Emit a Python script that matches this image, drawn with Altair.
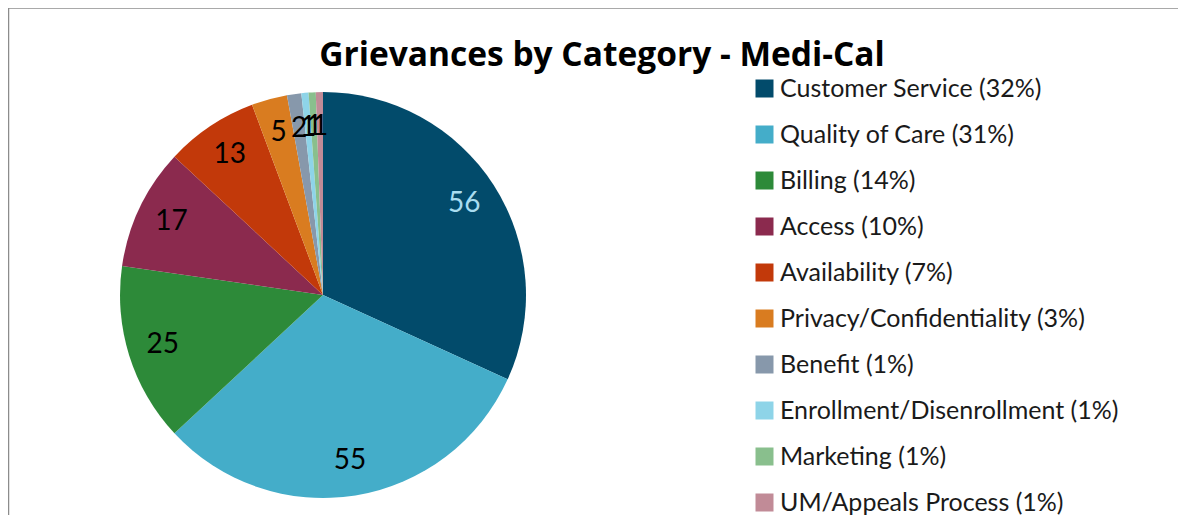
import altair as alt
import pandas as pd

categories = ["Customer Service", "Quality of Care", "Billing", "Access", "Availability",
              "Privacy/Confidentiality", "Benefit", "Enrollment/Disenrollment", "Marketing",
              "UM/Appeals Process"]
counts = [56, 55, 25, 17, 13, 5, 2, 1, 1, 1]
percents = ["32%", "31%", "14%", "10%", "7%", "3%", "1%", "1%", "1%", "1%"]
colors = ["#024B6B", "#44ADC9", "#2D8A39", "#8B2A4E", "#C2390A", "#D97C20",
          "#8798AB", "#8ED4E8", "#89BF8D", "#C18B97"]
label_colors = ["#A9DDF0", "#000000", "#000000", "#000000", "#000000", "#000000",
                "#000000", "#000000", "#000000", "#000000"]
title_text = "Grievances by Category - Medi-Cal"

legend_labels = [f"{c} ({p})" for c, p in zip(categories, percents)]
df = pd.DataFrame({
    "category": legend_labels,
    "count": counts,
    "order": list(range(len(counts))),
    "lcolor": label_colors,
})

W, H = 1170, 507
CX, CY = 315, 287
R = 203

color_scale = alt.Scale(domain=legend_labels, range=colors)

base = alt.Chart(df).encode(
    theta=alt.Theta("count:Q", stack=True),
    order=alt.Order("order:Q"),
)

pie = base.mark_arc(radius=R, stroke=None).encode(
    x=alt.value(CX), y=alt.value(CY),
    color=alt.Color("category:N", scale=color_scale, sort=legend_labels,
                    legend=alt.Legend(orient="none", legendX=744, legendY=68,
                                      title=None, symbolType="square", symbolSize=324,
                                      symbolStrokeWidth=0, labelFontSize=25,
                                      labelFont="Lato", labelColor="#1a1a1a",
                                      rowPadding=20, labelOffset=3, labelLimit=500)),
)

labels = base.mark_text(radius=168, fontSize=28, font="Lato").encode(
    x=alt.value(CX), y=alt.value(CY),
    text=alt.Text("count:Q"),
    color=alt.Color("lcolor:N", scale=None),
)

title = alt.Chart(pd.DataFrame({"t": [title_text]})).mark_text(
    font="Open Sans", fontWeight="bold", fontSize=33.5, baseline="alphabetic",
    align="center", color="#000000"
).encode(x=alt.value(594), y=alt.value(58), text="t:N")

frame_top = alt.Chart(pd.DataFrame({"a": [0]})).mark_rule(color="#8c8c8c", strokeWidth=1.5).encode(
    x=alt.value(0), x2=alt.value(W), y=alt.value(0))
frame_left = alt.Chart(pd.DataFrame({"a": [0]})).mark_rule(color="#8c8c8c", strokeWidth=1.5).encode(
    x=alt.value(0.5), y=alt.value(0), y2=alt.value(H))

chart = alt.layer(frame_top, frame_left, pie, labels, title).properties(
    width=W, height=H, autosize="none", padding=0
).configure_view(strokeWidth=0)

chart.save("out.html", embed_options={"renderer": "svg", "actions": False})
